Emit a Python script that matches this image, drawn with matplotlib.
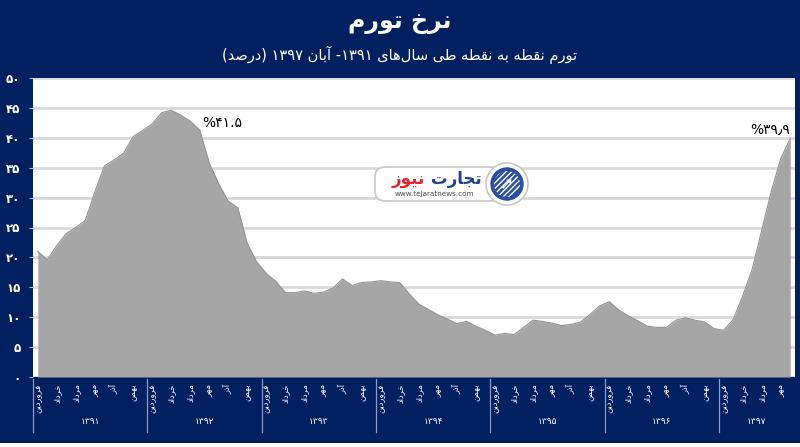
import numpy as np
import matplotlib as mpl
mpl.use("Agg")
import matplotlib.pyplot as plt
from matplotlib.patches import FancyBboxPatch, Circle, Rectangle

# ----------------------------------------------------------------------
# Minimal Persian shaping (matplotlib has no bidi / joining support)
# ----------------------------------------------------------------------
FORMS = {  # isolated, final, initial, medial
    "ا": ("\uFE8D", "\uFE8E", None, None),
    "آ": ("\uFE81", "\uFE82", None, None),
    "ب": ("\uFE8F", "\uFE90", "\uFE91", "\uFE92"),
    "ت": ("\uFE95", "\uFE96", "\uFE97", "\uFE98"),
    "ج": ("\uFE9D", "\uFE9E", "\uFE9F", "\uFEA0"),
    "خ": ("\uFEA5", "\uFEA6", "\uFEA7", "\uFEA8"),
    "د": ("\uFEA9", "\uFEAA", None, None),
    "ذ": ("\uFEAB", "\uFEAC", None, None),
    "ر": ("\uFEAD", "\uFEAE", None, None),
    "ز": ("\uFEAF", "\uFEB0", None, None),
    "س": ("\uFEB1", "\uFEB2", "\uFEB3", "\uFEB4"),
    "ص": ("\uFEB9", "\uFEBA", "\uFEBB", "\uFEBC"),
    "ط": ("\uFEC1", "\uFEC2", "\uFEC3", "\uFEC4"),
    "ف": ("\uFED1", "\uFED2", "\uFED3", "\uFED4"),
    "ق": ("\uFED5", "\uFED6", "\uFED7", "\uFED8"),
    "ل": ("\uFEDD", "\uFEDE", "\uFEDF", "\uFEE0"),
    "م": ("\uFEE1", "\uFEE2", "\uFEE3", "\uFEE4"),
    "ن": ("\uFEE5", "\uFEE6", "\uFEE7", "\uFEE8"),
    "ه": ("\uFEE9", "\uFEEA", "\uFEEB", "\uFEEC"),
    "و": ("\uFEED", "\uFEEE", None, None),
    "ی": ("\uFEEF", "\uFEF0", "\uFEF3", "\uFEF4"),
}
MIRROR = {"(": ")", ")": "("}


def _shape_word(w):
    out = []
    for i, c in enumerate(w):
        if c not in FORMS:
            continue
        prev = w[i - 1] if i > 0 else ""
        nxt = w[i + 1] if i + 1 < len(w) else ""
        j_prev = prev in FORMS and FORMS[prev][2] is not None
        j_next = FORMS[c][2] is not None and nxt in FORMS
        iso, fin, ini, med = FORMS[c]
        if j_prev and j_next:
            out.append(med)
        elif j_prev:
            out.append(fin)
        elif j_next:
            out.append(ini)
        else:
            out.append(iso)
    return "".join(out)


def fa(s):
    # split into runs: persian letters (incl. ZWNJ) / digits / single others
    runs, cur = [], ""
    for c in s:
        if c in FORMS or c == "\u200c":
            cur += c
        else:
            if cur:
                runs.append(("ar", cur))
                cur = ""
            if runs and runs[-1][0] == "num" and c in "۰۱۲۳۴۵۶۷۸۹":
                runs[-1] = ("num", runs[-1][1] + c)
            elif c in "۰۱۲۳۴۵۶۷۸۹":
                runs.append(("num", c))
            else:
                runs.append(("o", MIRROR.get(c, c)))
    if cur:
        runs.append(("ar", cur))
    vis = []
    for kind, t in reversed(runs):
        if kind == "ar":
            vis.append(_shape_word(t)[::-1])
        else:
            vis.append(t)
    return "".join(vis)


# ----------------------------------------------------------------------
# Data: point-to-point inflation, Farvardin 1391 .. Aban 1397 (%)
# ----------------------------------------------------------------------
years = ["۱۳۹۱", "۱۳۹۲", "۱۳۹۳", "۱۳۹۴", "۱۳۹۵", "۱۳۹۶", "۱۳۹۷"]
months_in_year = [12, 12, 12, 12, 12, 12, 8]
tick_months = ["فروردین", "خرداد", "مرداد", "مهر", "آذر", "بهمن"]
inflation = [21.0, 19.6, 22.0, 24.0, 25.0, 26.2, 31.0, 35.3, 36.3, 37.4, 40.2, 41.2,
             42.3, 44.2, 44.6, 43.8, 42.8, 41.3, 35.8, 32.3, 29.4, 28.3, 22.3, 19.2,
             17.3, 16.0, 14.1, 14.1, 14.4, 14.0, 14.2, 14.9, 16.4, 15.3, 15.8, 15.9,
             16.1, 15.9, 15.8, 13.9, 12.2, 11.3, 10.4, 9.7, 8.9, 9.3, 8.5, 7.8,
             7.0, 7.3, 7.1, 8.3, 9.5, 9.3, 9.0, 8.6, 8.8, 9.2, 10.5, 11.9,
             12.6, 11.2, 10.2, 9.4, 8.5, 8.3, 8.3, 9.5, 9.9, 9.5, 9.2, 8.1,
             7.8, 9.6, 13.5, 18.0, 24.5, 31.0, 36.5, 39.9]
yticks = [0, 5, 10, 15, 20, 25, 30, 35, 40, 45, 50]
ytick_labels = ["۰", "۵", "۱۰", "۱۵", "۲۰", "۲۵", "۳۰", "۳۵", "۴۰", "۴۵", "۵۰"]
peak_label = "%۴۱.۵"
last_label = "%۳۹٫۹"

title = "نرخ تورم"
subtitle = "تورم نقطه به نقطه طی سال\u200cهای ۱۳۹۱- آبان ۱۳۹۷ (درصد)"

NAVY = "#002060"
plt.rcParams["font.family"] = "DejaVu Sans"

# ----------------------------------------------------------------------
fig = plt.figure(figsize=(8.0, 4.47), dpi=100, facecolor=NAVY)
W, H = 800, 447
ax = fig.add_axes([33 / W, 70 / H, 762 / W, 299 / H])
ax.set_facecolor("white")

x = np.arange(len(inflation))
ax.fill_between(x, 0, inflation, color="#A6A6A6", lw=0, zorder=3)
ax.plot(x, inflation, color="#939393", lw=0.8, zorder=3.5)

ax.set_xlim(-0.5, len(inflation) - 0.5)
ax.set_ylim(0, 50)
ax.set_yticks(yticks)
ax.set_yticklabels(ytick_labels, color="white", fontsize=8.5, fontweight="bold")
ax.tick_params(axis="y", length=3, color="#B0B8CC", pad=6)
ax.set_xticks([])
ax.grid(axis="y", color="#D9D9D9", lw=2.0, zorder=1)
for s in ax.spines.values():
    s.set_visible(False)

# x axis: month labels every second month, year labels, separators
xt = ax.get_xaxis_transform()
start = 0
for yr, n in zip(years, months_in_year):
    for k in range(0, n, 2):
        ax.text(start + k, -0.022, fa(tick_months[k // 2]), transform=xt,
                rotation=90, ha="center", va="top", color="white",
                fontsize=6, clip_on=False)
    ax.text(start + n / 2 - 0.5, -0.15, yr, transform=xt, ha="center",
            va="center", color="white", fontsize=6.5, clip_on=False)
    ax.plot([start - 0.5, start - 0.5], [-0.008, -0.185], transform=xt,
            color="#8C9CC4", lw=0.9, clip_on=False)
    start += n

# value labels
ax.text(19.4, 42.4, peak_label, ha="center", va="center", fontsize=10,
        color="black", zorder=6)
ax.text(76.9, 41.4, last_label, ha="center", va="center", fontsize=10,
        color="black", zorder=6)

# titles
fig.text(0.5, 1 - 22 / H, fa(title), ha="center", va="center", color="white",
         fontsize=17, fontweight="bold")
fig.text(0.5, 1 - 55 / H, fa(subtitle), ha="center", va="center",
         color="white", fontsize=10.5)

# bottom light strip
fig.patches.append(Rectangle((0, 0), 1, 4 / H, transform=fig.transFigure,
                             facecolor="white", edgecolor="none"))

# watermark logo (axes in pixel units)
lax = fig.add_axes([370 / W, 1 - 212 / H, 165 / W, 56 / H])
lax.set_xlim(0, 165)
lax.set_ylim(0, 56)
lax.axis("off")
lax.add_patch(FancyBboxPatch((5, 11), 125, 34,
                             boxstyle="round,pad=0,rounding_size=10",
                             facecolor="white", edgecolor="#C8C8C8", lw=1.2))
lax.add_patch(Circle((137, 28), 21, facecolor="white", edgecolor="#C8C8C8",
                     lw=1.2, zorder=3))
lax.add_patch(Circle((137, 28), 16, facecolor="#2C4FA0", edgecolor="#2C4FA0",
                     zorder=4))
lax.add_patch(Circle((137, 28), 13, facecolor="none", edgecolor="white",
                     hatch="//////", lw=0, zorder=5))
lax.text(137, 28, "\u279a", ha="center", va="center", color="white",
         fontsize=12, zorder=6)
lax.text(86, 33, fa("تجارت"), ha="center", va="center", color="#23408F",
         fontsize=12, fontweight="bold", zorder=6)
lax.text(38, 33, fa("نیوز"), ha="center", va="center", color="#E3262B",
         fontsize=12, fontweight="bold", zorder=6)
lax.text(64, 18, "www.tejaratnews.com", ha="center", va="center",
         color="#4A4A4A", fontsize=5.2, zorder=6)

fig.savefig("out.png", dpi=100, facecolor=NAVY)
